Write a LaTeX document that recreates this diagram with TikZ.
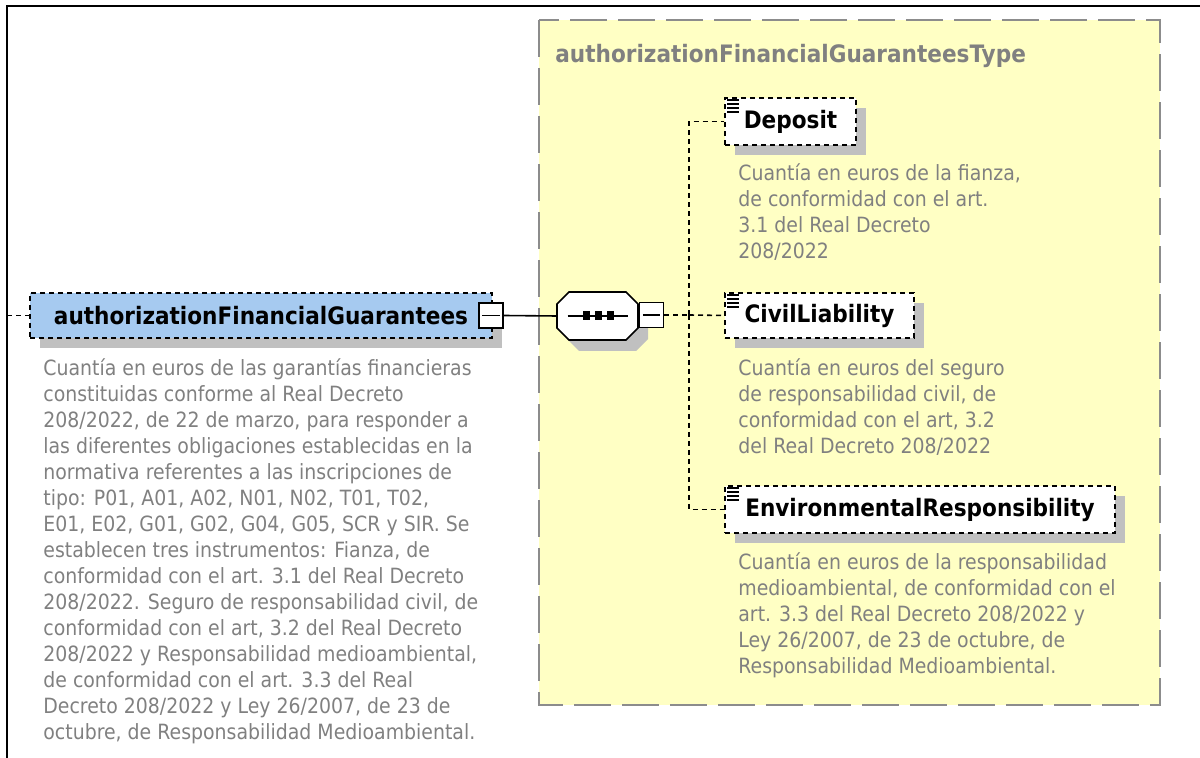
\documentclass[tikz,border=0pt]{standalone}
\usepackage{fontspec}
\setmainfont{DejaVu Sans}[FakeStretch=0.9]
\usetikzlibrary{shadows}
\definecolor{elblue}{RGB}{166,202,240}
\definecolor{tyyellow}{RGB}{255,255,196}
\definecolor{shgray}{RGB}{192,192,192}
\definecolor{txgray}{RGB}{128,128,128}
\definecolor{bdgray}{RGB}{140,140,140}

\begin{document}
\begin{tikzpicture}[x=0.5pt,y=-0.5pt,
  shd/.style={drop shadow={shadow xshift=5pt,shadow yshift=-5pt,fill=shgray,opacity=1}},
  elem/.style={draw,dash pattern=on 2.5pt off 2pt,line width=0.8pt,fill=white,inner sep=0,font=\fontsize{12}{14}\selectfont\bfseries,shd},
  desc/.style={anchor=north west,inner sep=0,align=left,text=txgray,font=\fontsize{10.5}{13}\selectfont},
  minus/.style={draw,fill=white,line width=0.6pt,minimum width=12pt,minimum height=12.5pt,inner sep=0},
  oct/.style={insert path={++(-28.5,-24) -- ++(57,0) -- ++(12,12) -- ++(0,24) -- ++(-12,12) -- ++(-57,0) -- ++(-12,-12) -- ++(0,-24) -- cycle}},
  con/.style={dash pattern=on 2.5pt off 2pt,line width=0.8pt}]
\useasboundingbox (0,0) rectangle (1200,758);
\draw[line width=1pt] (7,758) -- (7,6) -- (1200,6);
\draw[fill=tyyellow,draw=bdgray,line width=1pt,dash pattern=on 18.5pt off 5.5pt] (539,20) rectangle (1160,705);
\node[anchor=base west,inner sep=0,text=txgray,font=\fontsize{12}{14}\selectfont\bfseries] (typ) at (555,63) {authorizationFinancialGuaranteesType};
\node[elem,fill=elblue,minimum width=231pt,minimum height=22.5pt] (afg) at (261,315.5) {authorizationFinancialGuarantees};
\node[minus] (afgM) at (491,315.5) {};
\draw[line width=0.6pt] ([xshift=2pt]afgM.west) -- ([xshift=-2pt]afgM.east);
\node[inner sep=0,minimum width=40.5pt,minimum height=24pt] (seq) at (597.5,316) {};
\fill[shgray] ([shift={(10,11)}]seq.center) [oct];
\draw[fill=white,line width=0.8pt] (seq.center) [oct];
\draw[line width=0.9pt] ([xshift=-15pt]seq.center) -- ([xshift=15pt]seq.center);
\foreach \d in {-11,1,13} \fill ([shift={(\d,0)}]seq.center) ++(-3.5,-4.5) rectangle ++(7,9);
\node[minus] (seqM) at (651.5,315) {};
\draw[line width=0.6pt] ([xshift=2pt]seqM.west) -- ([xshift=-2pt]seqM.east);
\coordinate (in) at (7,315.5);
\coordinate (fork) at (689,315);
\node[elem,minimum width=65.5pt,minimum height=23.5pt] (dep) at (790.5,121.5) {Deposit};
\node[elem,minimum width=94.5pt,minimum height=22.5pt] (civ) at (819.5,315.5) {CivilLiability};
\node[elem,minimum width=195pt,minimum height=23.5pt] (env) at (920,509.5) {EnvironmentalResponsibility};
\foreach \n in {dep,civ,env}{\foreach \k in {0,...,3}\draw[line width=0.7pt] ([shift={(3,3+4*\k)}]\n.north west) -- ++(12,0);}
\draw[con] (in) -- (afg);
\draw[line width=0.8pt] (afgM.east) -- (seq.west);
\draw[con] (seqM.east) -- (fork);
\draw[con] (fork) |- (dep.west);
\draw[con] (fork) -- (civ.west);
\draw[con] (fork) |- (env.west);
\node[desc] (afgD) at (43,358) {Cuantía en euros de las garantías financieras\\constituidas conforme al Real Decreto\\208/2022, de 22 de marzo, para responder a\\las diferentes obligaciones establecidas en la\\normativa referentes a las inscripciones de\\tipo: P01, A01, A02, N01, N02, T01, T02,\\E01, E02, G01, G02, G04, G05, SCR y SIR. Se\\establecen tres instrumentos: Fianza, de\\conformidad con el art. 3.1 del Real Decreto\\208/2022. Seguro de responsabilidad civil, de\\conformidad con el art, 3.2 del Real Decreto\\208/2022 y Responsabilidad medioambiental,\\de conformidad con el art. 3.3 del Real\\Decreto 208/2022 y Ley 26/2007, de 23 de\\octubre, de Responsabilidad Medioambiental.};
\node[desc] (depD) at (738,163) {Cuantía en euros de la fianza,\\de conformidad con el art.\\3.1 del Real Decreto\\208/2022};
\node[desc] (civD) at (738,358) {Cuantía en euros del seguro\\de responsabilidad civil, de\\conformidad con el art, 3.2\\del Real Decreto 208/2022};
\node[desc] (envD) at (738,552) {Cuantía en euros de la responsabilidad\\medioambiental, de conformidad con el\\art. 3.3 del Real Decreto 208/2022 y\\Ley 26/2007, de 23 de octubre, de\\Responsabilidad Medioambiental.};
\end{tikzpicture}
\end{document}
